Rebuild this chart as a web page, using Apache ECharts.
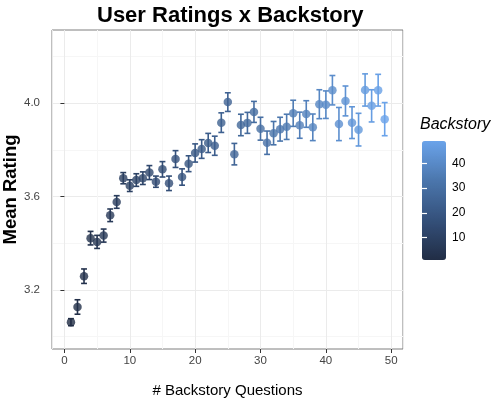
<!DOCTYPE html>
<html>
<head>
<meta charset="utf-8">
<script src="https://cdn.jsdelivr.net/npm/echarts@6/dist/echarts.min.js"></script>
<style>
  html, body { margin: 0; padding: 0; background: #fff; }
  #container { width: 494px; height: 402px; }
</style>
</head>
<body>
<div id="container"></div>
<script>
// number of backstory questions answered
var backstory = [1, 2, 3, 4, 5, 6, 7, 8, 9, 10, 11, 12, 13, 14, 15, 16, 17, 18, 19, 20,
  21, 22, 23, 24, 25, 26, 27, 28, 29, 30, 31, 32, 33, 34, 35, 36, 37, 38, 39, 40,
  41, 42, 43, 44, 45, 46, 47, 48, 49];
// mean rating per group
var meanRating = [3.062, 3.127, 3.259, 3.422, 3.406, 3.433, 3.520, 3.577, 3.679, 3.647,
  3.671, 3.679, 3.703, 3.664, 3.717, 3.657, 3.761, 3.684, 3.741, 3.787,
  3.804, 3.830, 3.818, 3.917, 4.005, 3.782, 3.907, 3.916, 3.963, 3.891,
  3.831, 3.872, 3.889, 3.899, 3.957, 3.906, 3.954, 3.897, 3.996, 3.994,
  4.056, 3.911, 4.010, 3.917, 3.887, 4.057, 3.989, 4.056, 3.932];
// half length of the error bars
var errHalf = [0.015, 0.031, 0.031, 0.029, 0.028, 0.028, 0.027, 0.027, 0.024, 0.025,
  0.027, 0.027, 0.030, 0.024, 0.033, 0.031, 0.036, 0.035, 0.034, 0.039,
  0.040, 0.041, 0.041, 0.042, 0.040, 0.046, 0.046, 0.045, 0.045, 0.049,
  0.050, 0.050, 0.051, 0.054, 0.056, 0.056, 0.057, 0.057, 0.062, 0.059,
  0.063, 0.071, 0.064, 0.068, 0.070, 0.069, 0.069, 0.068, 0.071];
var yTicks = [3.2, 3.6, 4.0];
var yMinorTicks = [3.0, 3.4, 3.8, 4.2];
var legendTicks = [10, 20, 30, 40];

var FONT = 'Liberation Sans';
var dom = document.getElementById('container');
var myChart = echarts.init(dom, null, { renderer: 'canvas' });

var points = [], bars = [];
for (var i = 0; i < backstory.length; i++) {
  points.push([backstory[i], meanRating[i]]);
  bars.push([backstory[i], meanRating[i] - errHalf[i], meanRating[i] + errHalf[i]]);
}

function renderErrorBar(params, api) {
  var x = api.value(0);
  var lo = api.coord([x, api.value(1)]);
  var hi = api.coord([x, api.value(2)]);
  var l = api.coord([x - 0.45, api.value(1)])[0];
  var r = api.coord([x + 0.45, api.value(1)])[0];
  var style = { stroke: api.visual('color'), lineWidth: 1.6 };
  return {
    type: 'group',
    children: [
      { type: 'line', shape: { x1: lo[0], y1: lo[1], x2: hi[0], y2: hi[1] }, style: style },
      { type: 'line', shape: { x1: l, y1: lo[1], x2: r, y2: lo[1] }, style: style },
      { type: 'line', shape: { x1: l, y1: hi[1], x2: r, y2: hi[1] }, style: style }
    ]
  };
}

var option = {
  backgroundColor: '#fff',
  animation: false,
  textStyle: { fontFamily: FONT },
  title: [
    {
      text: 'User Ratings x Backstory',
      left: 92, top: 0,
      textStyle: { fontSize: 22, fontWeight: 'bold', color: '#000', fontFamily: FONT }
    },
    {
      text: 'Backstory',
      left: 420, top: 117, padding: 0,
      textStyle: { fontSize: 16, fontStyle: 'italic', fontWeight: 'normal', color: '#000', fontFamily: FONT }
    }
  ],
  grid: [
    { left: 52, right: 91, top: 30, bottom: 53, show: true, borderColor: '#7f7f7f', borderWidth: 1,
      backgroundColor: '#fff', outerBoundsMode: 'none', containLabel: false },
    { left: 422, top: 141, width: 24, height: 119, outerBoundsMode: 'none', containLabel: false }
  ],
  visualMap: {
    type: 'continuous',
    min: 1, max: 49,
    dimension: 0,
    seriesIndex: [0, 1],
    calculable: false,
    hoverLink: false,
    text: null,
    showLabel: false,
    itemWidth: 24, itemHeight: 119,
    left: 422, top: 141, padding: 0,
    z: 4,
    inRange: { color: ['#212d45', '#34507a', '#4b76ac', '#6aa3ea'] }
  },
  xAxis: [
    {
      type: 'value', gridIndex: 0,
      min: -1.9, max: 51.8, splitNumber: 5,
      name: '# Backstory Questions', nameLocation: 'middle', nameGap: 34, nameMoveOverlap: false,
      nameTextStyle: { fontSize: 15, color: '#000', fontFamily: FONT },
      axisLine: { show: false },
      axisTick: { show: true, length: 4, lineStyle: { color: '#333' } },
      axisLabel: { fontSize: 11.5, color: '#444', margin: 6, fontFamily: FONT },
      splitLine: { show: true, lineStyle: { color: '#ebebeb', width: 1 } },
      minorTick: { show: false, splitNumber: 2 },
      minorSplitLine: { show: true, lineStyle: { color: '#f6f6f6', width: 1 } }
    },
    { type: 'value', gridIndex: 1, min: 0, max: 1, show: false }
  ],
  yAxis: [
    {
      type: 'value', gridIndex: 0,
      min: 2.947, max: 4.314,
      name: 'Mean Rating', nameLocation: 'middle', nameGap: 32, nameRotate: 90, nameMoveOverlap: false,
      nameTextStyle: { fontSize: 18.5, fontWeight: 'bold', color: '#000', fontFamily: FONT },
      axisLine: { show: false },
      axisTick: { show: true, length: 4, customValues: yTicks, lineStyle: { color: '#333' } },
      axisLabel: {
        fontSize: 11.5, color: '#444', margin: 12, customValues: yTicks, fontFamily: FONT,
        formatter: function (v) { return v.toFixed(1); }
      },
      splitLine: { show: true, lineStyle: { color: '#ebebeb', width: 1 } }
    },
    {
      type: 'value', gridIndex: 0,
      min: 2.947, max: 4.314,
      axisLine: { show: false },
      axisTick: { show: false, customValues: yMinorTicks },
      axisLabel: { show: false, customValues: yMinorTicks },
      splitLine: { show: true, lineStyle: { color: '#f6f6f6', width: 1 } }
    },
    {
      type: 'value', gridIndex: 1, position: 'right', z: 10,
      min: 1, max: 49,
      axisLine: { show: false },
      axisTick: { show: true, inside: true, length: 5, customValues: legendTicks, lineStyle: { color: '#fff', width: 1.2 } },
      axisLabel: { fontSize: 12, color: '#000', margin: 6, customValues: legendTicks, fontFamily: FONT },
      splitLine: { show: false }
    },
    {
      type: 'value', gridIndex: 1, position: 'left', z: 10,
      min: 1, max: 49,
      axisLine: { show: false },
      axisTick: { show: true, inside: true, length: 5, customValues: legendTicks, lineStyle: { color: '#fff', width: 1.2 } },
      axisLabel: { show: false, customValues: legendTicks },
      splitLine: { show: false }
    }
  ],
  series: [
    {
      type: 'scatter',
      xAxisIndex: 0, yAxisIndex: 0,
      symbol: 'circle', symbolSize: 8.5,
      data: points,
      z: 3
    },
    {
      type: 'custom',
      xAxisIndex: 0, yAxisIndex: 0,
      renderItem: renderErrorBar,
      encode: { x: 0, y: [1, 2] },
      data: bars,
      z: 2
    }
  ]
};
myChart.setOption(option);
</script>
</body>
</html>
